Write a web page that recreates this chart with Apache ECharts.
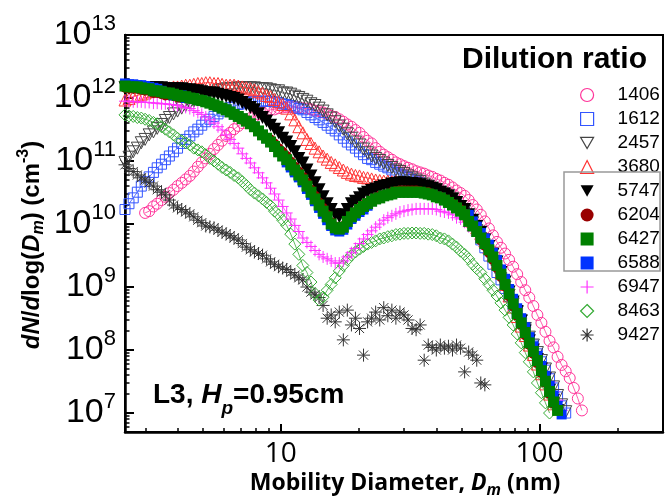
<!DOCTYPE html>
<html>
<head>
<meta charset="utf-8">
<script src="https://cdn.jsdelivr.net/npm/echarts@6/dist/echarts.min.js"></script>
<style>
html,body{margin:0;padding:0;background:#fff;}
#chart{width:669px;height:499px;}
</style>
</head>
<body>
<div id="chart"></div>
<script>
// mobility diameter bins (nm), 64 channels per decade
const diameters = [
  2.50,2.59,2.69,2.79,2.89,2.99,3.10,3.22,3.33,3.46,
  3.58,3.71,3.85,3.99,4.14,4.29,4.45,4.61,4.78,4.95,
  5.13,5.32,5.52,5.72,5.93,6.15,6.37,6.60,6.85,7.10,
  7.36,7.63,7.91,8.20,8.50,8.81,9.13,9.46,9.81,10.17,
  10.54,10.93,11.33,11.74,12.17,12.62,13.08,13.56,14.06,14.57,
  15.11,15.66,16.23,16.83,17.45,18.08,18.75,19.43,20.15,20.88,
  21.65,22.44,23.26,24.12,25.00,25.92,26.87,27.85,28.87,29.93,
  31.02,32.16,33.34,34.56,35.83,37.14,38.50,39.91,41.37,42.89,
  44.46,46.09,47.77,49.52,51.34,53.22,55.17,57.19,59.28,61.46,
  63.71,66.04,68.46,70.97,73.57,76.26,79.06,81.95,84.96,88.07,
  91.29,94.64,98.10,101.7,105.4,109.3,113.3,117.4,121.7,126.2,
  130.8,135.6,140.6,145.8
];

// dN/dlog(Dm), cm^-3, one array per dilution ratio (null = no point)
const n1406 = [
  null,null,null,null,null,1.5e10,1.6e10,1.9e10,2.1e10,2.4e10,
  2.7e10,3.1e10,3.5e10,4.0e10,4.5e10,5.1e10,5.8e10,6.8e10,8.1e10,9.5e10,
  1.1e11,1.3e11,1.55e11,1.8e11,2.1e11,2.5e11,2.8e11,3.2e11,3.6e11,4.0e11,
  4.4e11,4.8e11,5.1e11,5.5e11,5.9e11,6.2e11,6.5e11,6.6e11,6.9e11,7.1e11,
  7.2e11,7.2e11,7.2e11,7.1e11,6.9e11,6.8e11,6.6e11,6.3e11,6.2e11,5.9e11,
  5.6e11,5.2e11,5.0e11,4.6e11,4.2e11,3.8e11,3.5e11,3.1e11,2.8e11,2.4e11,
  2.1e11,1.9e11,1.6e11,1.4e11,1.26e11,1.15e11,1.05e11,9.5e10,8.9e10,8.3e10,
  7.8e10,7.4e10,6.9e10,6.6e10,6.3e10,5.9e10,5.6e10,5.2e10,4.9e10,4.5e10,
  4.2e10,3.8e10,3.4e10,3.1e10,2.8e10,2.4e10,2.0e10,1.7e10,1.4e10,1.1e10,
  8.5e9,6.6e9,5.2e9,4.2e9,3.4e9,2.7e9,2.1e9,1.6e9,1.2e9,8.9e8,
  6.8e8,5.0e8,3.6e8,2.7e8,1.95e8,1.4e8,1.1e8,7.8e7,5.8e7,4.6e7,
  3.6e7,2.5e7,1.7e7,1.1e7
];
const n1612 = [
  1.7e10,2.1e10,2.6e10,3.2e10,4.0e10,4.7e10,5.6e10,6.6e10,7.8e10,8.9e10,
  1.05e11,1.2e11,1.4e11,1.6e11,1.9e11,2.2e11,2.5e11,2.9e11,3.2e11,3.7e11,
  4.2e11,4.6e11,5.1e11,5.6e11,6.2e11,6.6e11,7.1e11,7.4e11,7.9e11,8.1e11,
  8.5e11,8.7e11,8.9e11,8.9e11,8.9e11,8.9e11,8.9e11,8.7e11,8.5e11,8.1e11,
  7.9e11,7.6e11,7.2e11,6.8e11,6.5e11,5.9e11,5.4e11,4.9e11,4.5e11,4.1e11,
  3.7e11,3.3e11,3.0e11,2.6e11,2.3e11,2.0e11,1.8e11,1.6e11,1.4e11,1.26e11,
  1.1e11,1.05e11,9.5e10,8.9e10,8.3e10,7.8e10,7.2e10,6.6e10,6.2e10,5.8e10,
  5.5e10,5.1e10,4.8e10,4.5e10,4.1e10,3.8e10,3.5e10,3.3e10,3.1e10,3.0e10,
  2.8e10,2.4e10,2.1e10,1.8e10,1.55e10,1.26e10,1.0e10,7.6e9,5.6e9,4.2e9,
  3.1e9,2.3e9,1.7e9,1.3e9,9.5e8,7.1e8,5.1e8,3.8e8,2.8e8,2.1e8,
  1.55e8,1.2e8,8.7e7,6.5e7,4.8e7,3.5e7,2.5e7,1.8e7,1.3e7,1.0e7
];
const n2457 = [
  9.5e10,1.15e11,1.4e11,1.6e11,1.95e11,2.2e11,2.6e11,2.9e11,3.3e11,3.8e11,
  4.4e11,4.9e11,5.6e11,6.2e11,6.9e11,7.6e11,8.3e11,8.9e11,9.8e11,1.05e12,
  1.1e12,1.2e12,1.2e12,1.3e12,1.35e12,1.4e12,1.4e12,1.4e12,1.45e12,1.45e12,
  1.45e12,1.45e12,1.45e12,1.4e12,1.4e12,1.4e12,1.35e12,1.3e12,1.3e12,1.2e12,
  1.2e12,1.15e12,1.07e12,1.02e12,9.5e11,8.9e11,8.1e11,7.6e11,6.9e11,6.2e11,
  5.4e11,4.8e11,4.2e11,3.6e11,3.2e11,2.7e11,2.3e11,2.0e11,1.8e11,1.55e11,
  1.35e11,1.2e11,1.1e11,1.02e11,9.3e10,8.5e10,7.9e10,7.2e10,6.8e10,6.3e10,
  5.8e10,5.4e10,5.0e10,4.7e10,4.3e10,4.0e10,3.7e10,3.5e10,3.2e10,3.0e10,
  2.7e10,2.5e10,2.2e10,1.9e10,1.6e10,1.3e10,1.05e10,7.9e9,5.9e9,4.4e9,
  3.2e9,2.5e9,1.8e9,1.35e9,1.0e9,7.4e8,5.4e8,4.0e8,2.9e8,2.2e8,
  1.6e8,1.2e8,9.1e7,6.8e7,5.0e7,3.6e7,2.6e7,1.9e7,1.35e7,1.05e7
];
const n3680 = [
  9.3e11,9.8e11,1.05e12,1.1e12,1.15e12,1.2e12,1.26e12,1.3e12,1.35e12,1.4e12,
  1.4e12,1.45e12,1.5e12,1.5e12,1.55e12,1.6e12,1.6e12,1.65e12,1.7e12,1.7e12,
  1.75e12,1.75e12,1.7e12,1.7e12,1.65e12,1.6e12,1.6e12,1.6e12,1.55e12,1.5e12,
  1.45e12,1.4e12,1.35e12,1.26e12,1.2e12,1.1e12,1.05e12,9.5e11,8.7e11,7.9e11,
  6.9e11,5.6e11,4.5e11,3.5e11,2.8e11,2.2e11,1.9e11,1.6e11,1.4e11,1.2e11,
  1.07e11,9.5e10,8.7e10,7.9e10,7.2e10,6.6e10,6.2e10,5.9e10,5.8e10,5.5e10,
  5.4e10,5.2e10,5.0e10,4.9e10,4.8e10,4.8e10,4.7e10,4.7e10,4.6e10,4.5e10,
  4.4e10,4.3e10,4.2e10,4.0e10,3.8e10,3.7e10,3.5e10,3.3e10,3.1e10,2.8e10,
  2.6e10,2.3e10,2.1e10,1.9e10,1.7e10,1.35e10,1.1e10,8.7e9,7.1e9,5.4e9,
  4.2e9,3.2e9,2.4e9,1.7e9,1.1e9,7.2e8,4.8e8,3.4e8,2.4e8,1.7e8,
  1.2e8,8.5e7,6.0e7,4.2e7,2.9e7,2.0e7,1.4e7
];
const n5747 = [
  1.45e12,1.45e12,1.45e12,1.45e12,1.45e12,1.45e12,1.45e12,1.45e12,1.45e12,1.45e12,
  1.4e12,1.4e12,1.4e12,1.4e12,1.4e12,1.35e12,1.35e12,1.3e12,1.3e12,1.26e12,
  1.2e12,1.2e12,1.2e12,1.15e12,1.1e12,1.07e12,1.02e12,9.8e11,9.3e11,8.5e11,
  7.8e11,7.1e11,6.5e11,5.6e11,4.9e11,4.3e11,3.7e11,3.2e11,2.8e11,2.3e11,
  2.0e11,1.7e11,1.4e11,1.1e11,9.3e10,7.2e10,5.8e10,4.5e10,3.5e10,2.7e10,
  2.1e10,1.7e10,1.4e10,1.3e10,1.4e10,1.7e10,2.1e10,2.3e10,2.6e10,3.0e10,
  3.2e10,3.4e10,3.6e10,3.8e10,4.0e10,4.1e10,4.3e10,4.4e10,4.5e10,4.5e10,
  4.4e10,4.4e10,4.3e10,4.2e10,4.0e10,3.9e10,3.7e10,3.5e10,3.2e10,3.0e10,
  2.8e10,2.5e10,2.2e10,1.9e10,1.7e10,1.4e10,1.15e10,9.1e9,7.4e9,5.6e9,
  4.4e9,3.3e9,2.5e9,1.7e9,1.2e9,8.3e8,5.8e8,4.1e8,2.9e8,2.0e8,
  1.4e8,1.0e8,7.1e7,5.0e7,3.5e7,2.3e7,1.6e7,1.1e7
];
const n6204 = [
  1.45e12,1.4e12,1.4e12,1.4e12,1.35e12,1.3e12,1.3e12,1.2e12,1.2e12,1.15e12,
  1.1e12,1.1e12,1.07e12,1.02e12,1.0e12,1.0e12,1.0e12,9.8e11,9.3e11,9.1e11,
  8.7e11,8.3e11,7.8e11,7.4e11,6.9e11,6.5e11,6.0e11,5.5e11,5.1e11,4.7e11,
  4.3e11,3.9e11,3.5e11,3.0e11,2.6e11,2.3e11,2.2e11,1.9e11,1.6e11,1.4e11,
  1.2e11,9.8e10,8.1e10,6.8e10,5.6e10,4.5e10,3.5e10,2.8e10,2.2e10,1.8e10,
  1.4e10,1.07e10,9.1e9,8.7e9,9.3e9,1.1e10,1.35e10,1.55e10,1.8e10,2.0e10,
  2.2e10,2.4e10,2.6e10,2.8e10,2.9e10,3.0e10,3.2e10,3.3e10,3.4e10,3.4e10,
  3.4e10,3.4e10,3.4e10,3.3e10,3.2e10,3.2e10,3.0e10,2.8e10,2.7e10,2.5e10,
  2.3e10,2.1e10,1.9e10,1.7e10,1.45e10,1.2e10,9.8e9,7.9e9,5.5e9,4.5e9,
  3.5e9,2.7e9,2.0e9,1.45e9,1.02e9,7.1e8,4.9e8,3.5e8,2.5e8,1.7e8,
  1.2e8,8.7e7,6.2e7,4.3e7,3.0e7,2.0e7,1.4e7
];
const n6427 = [
  1.55e12,1.5e12,1.5e12,1.5e12,1.45e12,1.4e12,1.4e12,1.3e12,1.3e12,1.26e12,
  1.2e12,1.2e12,1.15e12,1.1e12,1.07e12,1.05e12,1.0e12,9.8e11,9.3e11,9.1e11,
  8.7e11,8.3e11,7.8e11,7.4e11,6.9e11,6.5e11,6.0e11,5.5e11,5.1e11,4.7e11,
  4.3e11,3.9e11,3.5e11,3.0e11,2.6e11,2.3e11,2.0e11,1.7e11,1.4e11,1.2e11,
  1.05e11,8.7e10,7.2e10,6.0e10,5.0e10,4.0e10,3.2e10,2.5e10,2.0e10,1.6e10,
  1.3e10,1.0e10,8.7e9,8.3e9,8.9e9,1.1e10,1.3e10,1.5e10,1.7e10,1.9e10,
  2.1e10,2.3e10,2.5e10,2.6e10,2.8e10,2.9e10,3.0e10,3.2e10,3.2e10,3.2e10,
  3.2e10,3.2e10,3.2e10,3.2e10,3.1e10,3.0e10,2.9e10,2.7e10,2.6e10,2.4e10,
  2.2e10,2.0e10,1.8e10,1.6e10,1.4e10,1.1e10,9.3e9,7.6e9,6.0e9,4.9e9,
  3.9e9,3.0e9,2.2e9,1.6e9,1.1e9,7.8e8,5.4e8,3.8e8,2.7e8,1.9e8,
  1.3e8,9.5e7,6.8e7,4.7e7,3.2e7,2.2e7,1.5e7,1.1e7
];
const n6588 = [
  1.7e12,1.65e12,1.65e12,1.6e12,1.6e12,1.55e12,1.5e12,1.45e12,1.4e12,1.3e12,
  1.2e12,1.2e12,1.1e12,1.1e12,1.1e12,1.0e12,1.0e12,9.8e11,9.3e11,9.1e11,
  8.7e11,8.3e11,7.8e11,7.4e11,6.9e11,6.5e11,6.0e11,5.5e11,5.1e11,4.7e11,
  4.3e11,3.9e11,3.5e11,3.0e11,2.6e11,2.3e11,2.0e11,1.7e11,1.4e11,1.2e11,
  9.5e10,7.9e10,6.6e10,5.5e10,4.6e10,3.6e10,2.9e10,2.3e10,1.8e10,1.45e10,
  1.15e10,9.3e9,7.9e9,7.6e9,8.1e9,9.8e9,1.2e10,1.35e10,1.55e10,1.7e10,
  1.95e10,2.3e10,2.5e10,2.6e10,2.8e10,2.9e10,3.0e10,3.2e10,3.2e10,3.2e10,
  3.2e10,3.2e10,3.2e10,3.2e10,3.1e10,3.0e10,2.9e10,2.7e10,2.6e10,2.4e10,
  2.2e10,2.0e10,1.8e10,1.6e10,1.4e10,1.4e10,1.1e10,9.1e9,7.2e9,5.9e9,
  4.7e9,3.5e9,2.7e9,1.9e9,1.35e9,9.3e8,6.5e8,4.6e8,3.2e8,2.3e8,
  1.6e8,1.15e8,8.1e7,5.6e7,3.9e7,2.7e7,1.9e7,1.3e7,9.5e6
];
const n6947 = [
  8.9e11,8.9e11,8.7e11,8.7e11,8.7e11,8.5e11,8.5e11,8.3e11,8.3e11,8.1e11,
  8.1e11,7.9e11,7.8e11,7.6e11,7.2e11,7.1e11,6.8e11,6.3e11,5.9e11,5.5e11,
  5.0e11,4.5e11,4.0e11,3.5e11,3.1e11,2.6e11,2.2e11,1.9e11,1.6e11,1.3e11,
  1.1e11,9.3e10,7.8e10,6.5e10,5.4e10,4.5e10,3.7e10,3.0e10,2.4e10,1.9e10,
  1.5e10,1.2e10,9.5e9,7.6e9,6.0e9,5.1e9,4.4e9,3.8e9,3.3e9,3.0e9,
  2.8e9,2.6e9,2.4e9,2.4e9,2.6e9,3.0e9,3.5e9,4.1e9,4.9e9,5.8e9,
  6.8e9,7.8e9,8.9e9,1.0e10,1.15e10,1.26e10,1.35e10,1.45e10,1.55e10,1.6e10,
  1.66e10,1.7e10,1.74e10,1.74e10,1.74e10,1.74e10,1.74e10,1.7e10,1.6e10,1.55e10,
  1.5e10,1.4e10,1.26e10,1.2e10,1.07e10,9.1e9,7.8e9,6.6e9,5.6e9,4.5e9,
  3.5e9,2.8e9,2.1e9,1.6e9,1.15e9,8.5e8,6.2e8,4.5e8,3.2e8,2.3e8,
  1.7e8,1.2e8,8.5e7,6.0e7,4.3e7,3.1e7,2.2e7,1.6e7,1.1e7
];
const n8463 = [
  5.4e11,5.2e11,5.1e11,4.9e11,4.8e11,4.6e11,4.4e11,4.1e11,3.9e11,3.5e11,
  3.2e11,2.9e11,2.6e11,2.3e11,2.1e11,1.95e11,1.8e11,1.6e11,1.5e11,1.4e11,
  1.26e11,1.1e11,1.0e11,8.9e10,7.9e10,7.2e10,6.6e10,5.9e10,5.4e10,4.7e10,
  4.1e10,3.5e10,3.1e10,2.8e10,2.5e10,2.2e10,1.95e10,1.6e10,1.4e10,1.15e10,
  9.5e9,6.9e9,4.8e9,3.3e9,2.2e9,1.7e9,1.2e9,7.9e8,6.2e8,6.9e8,
  8.9e8,1.1e9,1.4e9,1.8e9,2.2e9,2.7e9,3.2e9,3.6e9,4.0e9,4.4e9,
  4.8e9,5.1e9,5.4e9,5.8e9,6.0e9,6.3e9,6.5e9,6.8e9,6.9e9,7.1e9,
  7.1e9,7.2e9,7.2e9,7.1e9,7.1e9,6.9e9,6.8e9,6.5e9,6.0e9,5.8e9,
  5.4e9,4.8e9,4.3e9,3.7e9,3.3e9,2.8e9,2.3e9,1.95e9,1.7e9,1.35e9,
  1.1e9,8.9e8,7.2e8,5.6e8,4.3e8,3.3e8,2.5e8,1.8e8,1.3e8,9.1e7,
  6.5e7,4.5e7,3.0e7,2.1e7,1.45e7,1.0e7
];
const n9427 = [
  8.7e10,7.6e10,6.8e10,6.0e10,5.4e10,5.0e10,4.5e10,4.0e10,3.5e10,3.2e10,
  2.9e10,2.4e10,2.0e10,1.8e10,1.7e10,1.55e10,1.45e10,1.3e10,1.15e10,1.05e10,
  9.3e9,9.0e9,8.7e9,8.0e9,7.4e9,7.0e9,6.5e9,6.0e9,5.6e9,4.9e9,
  4.3e9,3.9e9,3.6e9,3.4e9,3.2e9,2.8e9,2.5e9,2.3e9,2.1e9,2.0e9,
  1.9e9,1.7e9,1.55e9,1.4e9,1.3e9,1.0e9,8.3e8,7.5e8,6.8e8,5.1e8,
  3.2e8,3.6e8,2.8e8,4.0e8,1.45e8,4.3e8,2.5e8,3.2e8,2.2e8,8.3e7,
  2.8e8,3.2e8,4.0e8,3.0e8,4.7e8,3.5e8,4.3e8,3.2e8,4.0e8,3.6e8,
  3.0e8,2.2e8,2.1e8,2.5e8,6.9e7,1.2e8,1.1e8,1.0e8,1.2e8,1.07e8,
  1.15e8,1.0e8,1.2e8,1.07e8,4.5e7,9.3e7,8.3e7,6.9e7,3.0e7,2.8e7
];

const xMajorTicks = [10, 100];
const xMinorTicks = [3, 4, 5, 6, 7, 8, 9, 20, 30, 40, 50, 60, 70, 80, 90, 200, 300];
const yMajorTicks = [1e7, 1e8, 1e9, 1e10, 1e11, 1e12, 1e13];

const FONT = '"Liberation Sans", Arial, sans-serif';
const SYM_DOWN = 'path://M0,0L10,0L5,8.66Z';
const SYM_PLUS = 'path://M5,0L5,10M0,5L10,5';
const SYM_STAR = 'path://M5,0L5,10M0,5L10,5M1.46,1.46L8.54,8.54M1.46,8.54L8.54,1.46';

// legend order
const seriesDefs = [
  {name: '1406', values: n1406, symbol: 'circle', size: 11, color: '#ff3399', filled: false, line: true},
  {name: '1612', values: n1612, symbol: 'rect', size: 10, color: '#3355ff', filled: false, line: true},
  {name: '2457', values: n2457, symbol: SYM_DOWN, size: 12, color: '#444444', filled: false, line: true},
  {name: '3680', values: n3680, symbol: 'triangle', size: 12, color: '#ff3333', filled: false, line: true},
  {name: '5747', values: n5747, symbol: SYM_DOWN, size: 13, color: '#000000', filled: true, line: true},
  {name: '6204', values: n6204, symbol: 'circle', size: 10, color: '#990000', filled: true, line: true},
  {name: '6427', values: n6427, symbol: 'rect', size: 11, color: '#008000', filled: true, line: true},
  {name: '6588', values: n6588, symbol: 'rect', size: 10, color: '#0033ff', filled: true, line: true},
  {name: '6947', values: n6947, symbol: SYM_PLUS, size: 12, color: '#ff33ff', filled: false, line: true},
  {name: '8463', values: n8463, symbol: 'diamond', size: 12, color: '#33aa33', filled: false, line: true},
  {name: '9427', values: n9427, symbol: SYM_STAR, size: 13, color: '#333333', filled: false, line: false}
];
// painting order, last one on top
const drawOrder = ['1406', '1612', '2457', '3680', '9427', '8463', '6947', '5747', '6204', '6588', '6427'];

function toPoints(values) {
  const pts = [];
  values.forEach((v, i) => {
    if (v != null && diameters[i] != null) {
      pts.push([diameters[i], v]);
    }
  });
  return pts;
}

function markerStyle(def, bw) {
  return def.filled
    ? {color: def.color, borderWidth: 0}
    : {color: 'rgba(0,0,0,0)', borderColor: def.color, borderWidth: bw};
}

function findDef(name) {
  return seriesDefs.find(d => d.name === name);
}

const yMinorTicks = [];
for (let e = 6; e <= 12; e++) {
  for (let m = 2; m <= 9; m++) {
    const v = m * Math.pow(10, e);
    if (v > 5e6 && v < 1e13) {
      yMinorTicks.push(v);
    }
  }
}

const series = drawOrder.map(name => {
  const def = findDef(name);
  return {
    name: def.name,
    type: 'line',
    data: toPoints(def.values),
    symbol: def.symbol,
    symbolSize: def.size,
    showSymbol: true,
    lineStyle: {color: def.color, width: 0.8, opacity: def.line ? 1 : 0},
    itemStyle: markerStyle(def, 1),
    emphasis: {disabled: true},
    z: 3
  };
});

const chart = echarts.init(document.getElementById('chart'));
chart.setOption({
  animation: false,
  grid: {left: 125, right: 6, top: 35, bottom: 67, show: true, borderColor: '#000', borderWidth: 2},
  xAxis: [{
    type: 'log', logBase: 10, min: 2.5, max: 300,
    axisLine: {show: true, lineStyle: {color: '#000', width: 2.5}},
    axisTick: {show: true, inside: true, length: 8, customValues: xMajorTicks, lineStyle: {color: '#000', width: 2}},
    axisLabel: {customValues: xMajorTicks, margin: 8, color: '#000', fontSize: 28, fontFamily: '"Open Sans", sans-serif'},
    splitLine: {show: false}
  }, {
    type: 'log', logBase: 10, min: 2.5, max: 300, position: 'bottom',
    axisLine: {show: false},
    axisTick: {show: true, inside: true, length: 4, customValues: xMinorTicks, lineStyle: {color: '#000', width: 1.5}},
    axisLabel: {show: false},
    splitLine: {show: false}
  }],
  yAxis: [{
    type: 'log', logBase: 10, min: 5e6, max: 1e13,
    axisLine: {show: true, lineStyle: {color: '#000', width: 2.5}},
    axisTick: {show: true, inside: true, length: 9, customValues: yMajorTicks, lineStyle: {color: '#000', width: 2}},
    axisLabel: {
      customValues: yMajorTicks, margin: 9,
      formatter: v => '{b|10}{s|' + Math.round(Math.log10(v)) + '}',
      rich: {
        b: {fontSize: 34, fontFamily: FONT, color: '#000'},
        s: {fontSize: 22, fontFamily: FONT, color: '#000', padding: [0, 0, 22, 0]}
      }
    },
    splitLine: {show: false}
  }, {
    type: 'log', logBase: 10, min: 5e6, max: 1e13, position: 'left',
    axisLine: {show: false},
    axisTick: {show: true, inside: true, length: 4.5, customValues: yMinorTicks, lineStyle: {color: '#000', width: 1.5}},
    axisLabel: {show: false},
    splitLine: {show: false}
  }],
  legend: {
    orient: 'vertical', left: 575, top: 80,
    itemWidth: 13, itemHeight: 13, itemGap: 4,
    selectedMode: false,
    formatter: name => '{gap| }' + name,
    textStyle: {
      fontSize: 19, fontFamily: FONT, color: '#000', lineHeight: 20,
      rich: {gap: {width: 19, fontSize: 19}}
    },
    data: seriesDefs.map(def => ({
      name: def.name,
      icon: def.symbol,
      itemStyle: markerStyle(def, 1.2)
    }))
  },
  graphic: [
    {
      type: 'text', x: 462, y: 45, z: 10,
      style: {text: 'Dilution ratio', fontSize: 30, fontWeight: 'bold', fontFamily: FONT, fill: '#000'}
    },
    {
      type: 'rect', z: 10,
      shape: {x: 564, y: 172, width: 96, height: 99},
      style: {fill: 'none', stroke: '#999', lineWidth: 1.5}
    },
    {
      type: 'text', x: 153, y: 395, z: 10,
      style: {
        text: '{n|L3, }{i|H}{sub|p}{n|=0.95cm}',
        textVerticalAlign: 'middle',
        rich: {
          n: {fontSize: 28, fontWeight: 'bold', fontFamily: FONT, fill: '#000'},
          i: {fontSize: 28, fontWeight: 'bold', fontStyle: 'italic', fontFamily: FONT, fill: '#000'},
          sub: {fontSize: 19, fontWeight: 'bold', fontStyle: 'italic', fontFamily: FONT, fill: '#000', padding: [28, 0, 0, 0]}
        }
      }
    },
    {
      type: 'text', x: 32, y: 245, rotation: Math.PI / 2, z: 10,
      style: {
        text: '{i|dN}{n|/}{i|d}{n|log(}{i|D}{sub|m}{n|) (cm}{sup|-3}{n|)}',
        textAlign: 'center', textVerticalAlign: 'middle',
        rich: {
          n: {fontSize: 24, fontWeight: 'bold', fontFamily: FONT, fill: '#000'},
          i: {fontSize: 24, fontWeight: 'bold', fontStyle: 'italic', fontFamily: FONT, fill: '#000'},
          sub: {fontSize: 16, fontWeight: 'bold', fontStyle: 'italic', fontFamily: FONT, fill: '#000', padding: [14, 0, 0, 0]},
          sup: {fontSize: 16, fontWeight: 'bold', fontFamily: FONT, fill: '#000', padding: [0, 0, 16, 0]}
        }
      }
    },
    {
      type: 'text', x: 405, y: 483, z: 10,
      style: {
        text: '{n|Mobility Diameter, }{i|D}{sub|m}{n| (nm)}',
        textAlign: 'center', textVerticalAlign: 'middle',
        rich: {
          n: {fontSize: 23, fontWeight: 'bold', fontFamily: '"Open Sans", sans-serif', fill: '#000'},
          i: {fontSize: 23, fontWeight: 'bold', fontStyle: 'italic', fontFamily: '"Open Sans", sans-serif', fill: '#000'},
          sub: {fontSize: 16, fontWeight: 'bold', fontStyle: 'italic', fontFamily: '"Open Sans", sans-serif', fill: '#000', padding: [14, 0, 0, 0]}
        }
      }
    }
  ],
  series: series
});
</script>
</body>
</html>
